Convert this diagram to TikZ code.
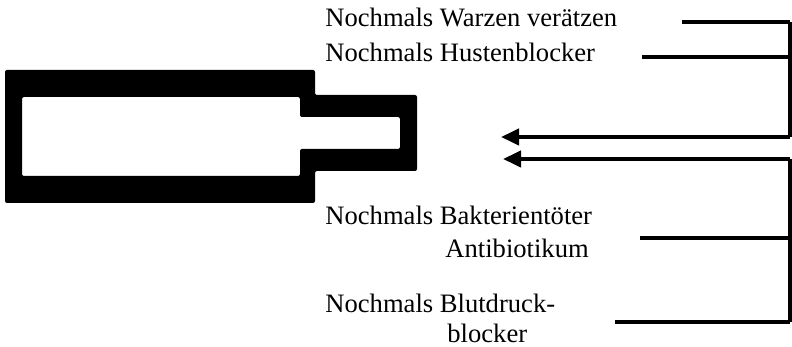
\documentclass[tikz,border=0pt]{standalone}
\usepackage{fontspec}
\setmainfont{Liberation Serif}
\usetikzlibrary{arrows.meta,positioning}
\tikzset{
  label/.style={anchor=base west,inner sep=0pt,font=\fontsize{13.3}{15}\selectfont},
  feed/.style={line width=2pt},
  rail/.style={line width=1.6pt},
  inlet/.style={
    line width=2pt,-{Triangle[length=9pt,width=8pt]}
  }
}

\begin{document}
\begin{tikzpicture}[x=0.5pt,y=-0.5pt]
  \useasboundingbox (0,0) rectangle (792,347);

  % body with nozzle, thick walls
  \fill[even odd rule,rounded corners=1pt]
    (5,70) -- (315,70) -- (315,95) -- (417,95) -- (417,171) -- (315,171)
      -- (315,203) -- (5,203) -- cycle
    (22,97) -- (300,97) -- (300,117) -- (400,117) -- (400,149) -- (300,149)
      -- (300,176) -- (22,176) -- cycle;

  \node[label] (warzen) at (325,27) {Nochmals Warzen verätzen};
  \node[label] (husten) at (325,62) {Nochmals Hustenblocker};
  \node[label] (bakt)   at (325,225) {Nochmals Bakterientöter};
  \node[label] (anti)   at (445,257) {Antibiotikum};
  \node[label] (blut)   at (325,312) {Nochmals Blutdruck-};
  \node[label] (blk)    at (447,342) {blocker};

  % upper bracket
  \coordinate (w0) at (682,22);
  \coordinate (w1) at (790,22);
  \coordinate (h0) at (642,57);
  \coordinate (h1) at (790,57);
  \coordinate (u1) at (790,137);
  \coordinate (u0) at (501,137);
  % lower bracket
  \coordinate (l1) at (790,159);
  \coordinate (l0) at (503,159);
  \coordinate (a0) at (640,238);
  \coordinate (a1) at (790,238);
  \coordinate (b0) at (615,322);
  \coordinate (b1) at (790,322);

  \path[feed]
    (w0) edge (w1)
    (h0) edge (h1)
    (a0) edge (a1)
    (b0) edge (b1);
  \draw[rail] (w1) -- (u1);
  \draw[rail] (l1) -- (b1);
  \path[inlet]
    (u1) edge (u0)
    (l1) edge (l0);
\end{tikzpicture}
\end{document}
